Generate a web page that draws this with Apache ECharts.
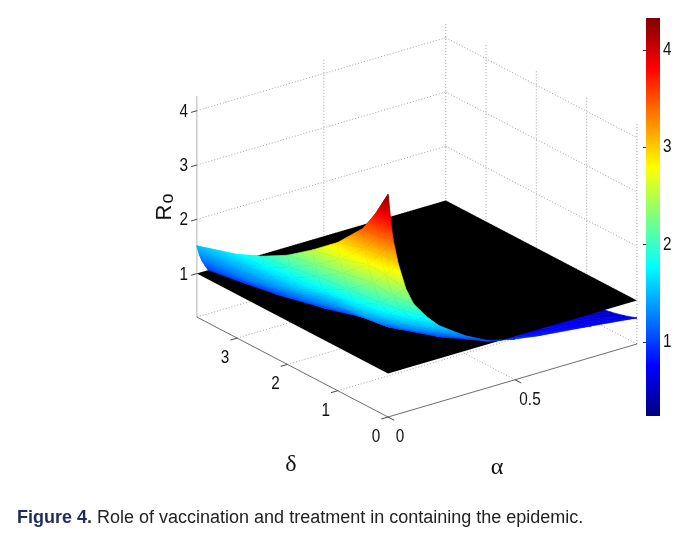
<!DOCTYPE html>
<html>
<head>
<meta charset="utf-8">
<script src="https://cdn.jsdelivr.net/npm/echarts@6/dist/echarts.min.js"></script>
<style>
html, body { margin: 0; padding: 0; background: #fff; }
#main { width: 680px; height: 535px; }
</style>
</head>
<body>
<div id="main"></div>
<script>
// vaccination (alpha) and treatment (delta) sample values
var alphaVals = [0, 0.01, 0.02, 0.04, 0.07, 0.1, 0.15, 0.2, 0.3, 0.4, 0.5, 0.6, 0.8, 0.98];
var deltaVals = [0, 0.25, 0.5, 1, 1.5, 2, 2.5, 3, 3.8];

// R0, one row per delta value, one column per alpha value
var r0Rows = [
    [4.30, 3.83, 3.44, 2.97, 2.47, 2.15, 1.85, 1.61, 1.29, 1.05, 0.95, 0.88, 0.78, 0.68],
    [3.82, 3.40, 3.06, 2.64, 2.20, 1.91, 1.64, 1.43, 1.15, 0.94, 0.84, 0.78, 0.70, 0.60],
    [3.43, 3.05, 2.74, 2.37, 1.97, 1.72, 1.47, 1.29, 1.03, 0.84, 0.75, 0.70, 0.62, 0.54],
    [2.93, 2.61, 2.34, 2.02, 1.68, 1.47, 1.26, 1.10, 0.88, 0.72, 0.64, 0.60, 0.53, 0.46],
    [2.55, 2.27, 2.04, 1.76, 1.59, 1.38, 1.19, 1.04, 0.83, 0.67, 0.59, 0.52, 0.46, 0.40],
    [2.21, 1.97, 1.77, 1.52, 1.37, 1.20, 1.03, 0.90, 0.71, 0.58, 0.51, 0.45, 0.40, 0.35],
    [1.95, 1.74, 1.56, 1.35, 1.21, 1.06, 0.91, 0.79, 0.64, 0.52, 0.45, 0.40, 0.35, 0.31],
    [1.74, 1.55, 1.39, 1.20, 1.08, 0.94, 0.81, 0.70, 0.56, 0.46, 0.40, 0.36, 0.32, 0.275],
    [1.51, 1.34, 1.21, 1.04, 0.87, 0.76, 0.65, 0.57, 0.45, 0.37, 0.33, 0.31, 0.27, 0.24]
];

var thresholdR0 = 1;            // the black plane R0 = 1
var r0Range = [0.24, 4.33];     // colour scale
var zTicks = [1, 2, 3, 4];
var deltaTicks = [0, 1, 2, 3];
var alphaTicks = [0, 0.5];
var alphaTickLabels = ['0', '0.5'];
var colorbarTicks = [1, 2, 3, 4];
var captionBold = 'Figure 4.';
var captionText = 'Role of vaccination and treatment in containing the epidemic.';

// ---- view of the 3D box (pixels on the hidden full-page grid) ----
var ORIGIN = [388, 417];      // floor corner alpha=0, delta=0
var A_VEC = [254, -74.5];     // per unit alpha
var D_VEC = [-50.3, -26.3];   // per unit delta
var Z_PX = 54.3;              // per unit R0
var Z_FLOOR = 0.2, Z_TOP = 4.27;
var A_MAX = alphaVals[alphaVals.length - 1];
var D_MAX = deltaVals[deltaVals.length - 1];

var SANS = "'Liberation Sans', Arial, sans-serif";
var SERIF = "'Liberation Serif', 'DejaVu Serif', serif";

function proj3(a, d, z) {
    return [ORIGIN[0] + a * A_VEC[0] + d * D_VEC[0],
            ORIGIN[1] + a * A_VEC[1] + d * D_VEC[1] - (z - Z_FLOOR) * Z_PX];
}

// MATLAB jet colormap
function jet(v) {
    var t = (v - r0Range[0]) / (r0Range[1] - r0Range[0]);
    t = Math.max(0, Math.min(1, t));
    function c(x) { return Math.round(255 * Math.max(0, Math.min(1, x))); }
    return 'rgb(' + c(1.5 - Math.abs(4 * t - 3)) + ',' + c(1.5 - Math.abs(4 * t - 2)) + ',' + c(1.5 - Math.abs(4 * t - 1)) + ')';
}

function clipAbove(poly, level) {
    var out = [];
    for (var k = 0; k < poly.length; k++) {
        var p = poly[k], q = poly[(k + 1) % poly.length];
        var pin = p.z >= level, qin = q.z >= level;
        if (pin) out.push(p);
        if (pin !== qin) {
            var t = (level - p.z) / (q.z - p.z);
            out.push({ a: p.a + t * (q.a - p.a), d: p.d + t * (q.d - p.d), z: level });
        }
    }
    return out;
}

function renderScene(params, api) {
    var kids = [];
    function P(a, d, z) { return api.coord(proj3(a, d, z)); }
    function seg(p, q, style) {
        kids.push({ type: 'line', shape: { x1: p[0], y1: p[1], x2: q[0], y2: q[1] }, style: style });
    }
    function txt(x, y, s, opt) {
        kids.push({
            type: 'text', x: x, y: y, rotation: opt.rotation || 0, scaleX: opt.scaleX || 1,
            style: {
                text: s, fill: '#111', fontSize: opt.size || 18, fontFamily: opt.family || SANS,
                align: opt.align || 'center', verticalAlign: 'middle', rich: opt.rich
            }
        });
    }
    // colour a polygon whose values vary linearly: fit value = c + g.(x,y), draw as a linear gradient
    function shaded(poly) {
        if (poly.length < 3) return;
        var pts = poly.map(function (v) { return P(v.a, v.d, v.z); });
        var n = pts.length, mx = 0, my = 0, mv = 0;
        for (var k = 0; k < n; k++) { mx += pts[k][0]; my += pts[k][1]; mv += poly[k].z; }
        mx /= n; my /= n; mv /= n;
        var sxx = 0, sxy = 0, syy = 0, sxv = 0, syv = 0;
        for (k = 0; k < n; k++) {
            var dx = pts[k][0] - mx, dy = pts[k][1] - my, dv = poly[k].z - mv;
            sxx += dx * dx; sxy += dx * dy; syy += dy * dy; sxv += dx * dv; syv += dy * dv;
        }
        var det = sxx * syy - sxy * sxy;
        var fill;
        if (Math.abs(det) < 1e-6) {
            fill = jet(mv);
        } else {
            var gx = (syy * sxv - sxy * syv) / det, gy = (sxx * syv - sxy * sxv) / det;
            var gg = gx * gx + gy * gy;
            var lo = Infinity, hi = -Infinity;
            for (k = 0; k < n; k++) {
                var f = mv + gx * (pts[k][0] - mx) + gy * (pts[k][1] - my);
                lo = Math.min(lo, f); hi = Math.max(hi, f);
            }
            if (hi - lo < 0.004 || gg < 1e-12) {
                fill = jet(mv);
            } else {
                var x0 = mx + gx * (lo - mv) / gg, y0 = my + gy * (lo - mv) / gg;
                var x1 = mx + gx * (hi - mv) / gg, y1 = my + gy * (hi - mv) / gg;
                var stops = [];
                for (var s = 0; s <= 6; s++) stops.push({ offset: s / 6, color: jet(lo + (hi - lo) * s / 6) });
                fill = new echarts.graphic.LinearGradient(x0, y0, x1, y1, stops, true);
            }
        }
        kids.push({ type: 'polygon', shape: { points: pts }, style: { fill: fill, stroke: fill, lineWidth: 0.7, lineJoin: 'round' } });
    }

    var dotted = { stroke: '#8a8a8a', lineWidth: 0.8, lineDash: [1, 2] };

    // back walls
    zTicks.forEach(function (z) {
        seg(P(0, D_MAX, z), P(A_MAX, D_MAX, z), dotted);
        seg(P(A_MAX, D_MAX, z), P(A_MAX, 0, z), dotted);
    });
    alphaTicks.forEach(function (a) {
        if (a > 0) seg(P(a, D_MAX, Z_FLOOR), P(a, D_MAX, Z_TOP), dotted);
    });
    seg(P(A_MAX, D_MAX, Z_FLOOR), P(A_MAX, D_MAX, Z_TOP), dotted);
    deltaTicks.forEach(function (d) {
        seg(P(A_MAX, d, Z_FLOOR), P(A_MAX, d, Z_TOP), dotted);
    });
    // floor
    deltaTicks.forEach(function (d) {
        if (d > 0) seg(P(0, d, Z_FLOOR), P(A_MAX, d, Z_FLOOR), dotted);
    });
    alphaTicks.forEach(function (a) {
        if (a > 0) seg(P(a, 0, Z_FLOOR), P(a, D_MAX, Z_FLOOR), dotted);
    });
    seg(P(A_MAX, 0, Z_FLOOR), P(A_MAX, D_MAX, Z_FLOOR), dotted);
    seg(P(0, D_MAX, Z_FLOOR), P(A_MAX, D_MAX, Z_FLOOR), dotted);

    // z axis
    seg(P(0, D_MAX, Z_FLOOR), P(0, D_MAX, Z_TOP), { stroke: '#b5b5b5', lineWidth: 1 });

    // surface cells split into triangles, far to near
    var tris = [];
    for (var i = deltaVals.length - 2; i >= 0; i--) {
        for (var j = alphaVals.length - 2; j >= 0; j--) {
            var v00 = { a: alphaVals[j], d: deltaVals[i], z: r0Rows[i][j] };
            var v10 = { a: alphaVals[j + 1], d: deltaVals[i], z: r0Rows[i][j + 1] };
            var v11 = { a: alphaVals[j + 1], d: deltaVals[i + 1], z: r0Rows[i + 1][j + 1] };
            var v01 = { a: alphaVals[j], d: deltaVals[i + 1], z: r0Rows[i + 1][j] };
            tris.push([v10, v11, v01]);
            tris.push([v00, v10, v01]);
        }
    }
    tris.forEach(shaded);

    // threshold plane R0 = 1
    kids.push({
        type: 'polygon',
        shape: { points: [P(0, 0, thresholdR0), P(A_MAX, 0, thresholdR0), P(A_MAX, D_MAX, thresholdR0), P(0, D_MAX, thresholdR0)] },
        style: { fill: '#000' }
    });

    // part of the surface above the plane
    tris.forEach(function (t) { shaded(clipAbove(t, thresholdR0)); });

    // front axes
    var axisStyle = { stroke: '#6d6d6d', lineWidth: 1 };
    seg(P(0, 0, Z_FLOOR), P(0, D_MAX, Z_FLOOR), axisStyle);
    seg(P(0, 0, Z_FLOOR), P(A_MAX, 0, Z_FLOOR), axisStyle);

    var aLen = Math.sqrt(A_VEC[0] * A_VEC[0] + A_VEC[1] * A_VEC[1]);
    var dLen = Math.sqrt(D_VEC[0] * D_VEC[0] + D_VEC[1] * D_VEC[1]);
    var ua = [A_VEC[0] / aLen, A_VEC[1] / aLen], ud = [D_VEC[0] / dLen, D_VEC[1] / dLen];

    zTicks.forEach(function (z) {
        var p = P(0, D_MAX, z);
        seg(p, [p[0] - 6 * ua[0], p[1] - 6 * ua[1]], { stroke: '#444', lineWidth: 1 });
        txt(p[0] - 13, p[1] + 1, String(z), { scaleX: 0.85 });
    });
    deltaTicks.forEach(function (d) {
        var p = P(0, d, Z_FLOOR);
        seg(p, [p[0] - 7 * ua[0], p[1] - 7 * ua[1]], { stroke: '#444', lineWidth: 1 });
        txt(p[0] - 12, p[1] + 20, String(d), { scaleX: 0.85 });
    });
    alphaTicks.forEach(function (a, k) {
        var p = P(a, 0, Z_FLOOR);
        seg(p, [p[0] - 7 * ud[0], p[1] - 7 * ud[1]], { stroke: '#444', lineWidth: 1 });
        txt(p[0] + 12 + (k > 0 ? 3 : 0), p[1] + 20, alphaTickLabels[k], { scaleX: 0.85 });
    });

    // axis names
    txt(291, 465, '\u03b4', { size: 24, family: SERIF });
    txt(497, 468, '\u03b1', { size: 24, family: SERIF });
    txt(165, 207, '{r|R}{s|o}', {
        rotation: Math.PI / 2,
        rich: {
            r: { fontSize: 22, fontFamily: SANS, fill: '#111' },
            s: { fontSize: 18, fontFamily: SANS, fill: '#111', verticalAlign: 'bottom', padding: [6, 0, 0, 1] }
        }
    });

    // colour bar tick labels
    colorbarTicks.forEach(function (c) {
        var y = 416 - (c - r0Range[0]) / (r0Range[1] - r0Range[0]) * 398;
        txt(663, y, String(c), { align: 'left', scaleX: 0.85 });
    });

    return { type: 'group', children: kids };
}

function renderColorbar(params, api) {
    var p0 = api.coord([0, r0Range[0]]), p1 = api.coord([1, r0Range[1]]);
    var stops = [];
    for (var s = 0; s <= 16; s++) {
        stops.push({ offset: s / 16, color: jet(r0Range[0] + (r0Range[1] - r0Range[0]) * s / 16) });
    }
    return {
        type: 'rect',
        shape: { x: p0[0], y: p1[1], width: p1[0] - p0[0], height: p0[1] - p1[1] },
        style: { fill: new echarts.graphic.LinearGradient(0, 1, 0, 0, stops) }
    };
}

var myChart = echarts.init(document.getElementById('main'));

myChart.setOption({
    animation: false,
    backgroundColor: '#fff',
    title: {
        left: 12,
        top: 504,
        text: '{b|' + captionBold + '} {n|' + captionText + '}',
        textStyle: {
            fontWeight: 'normal',
            rich: {
                b: { fontFamily: SANS, fontSize: 18, fontWeight: 'bold', color: '#1f2c5a' },
                n: { fontFamily: SANS, fontSize: 18, fontWeight: 'normal', color: '#222' }
            }
        }
    },
    grid: [
        { left: 0, top: 0, width: 680, height: 535 },
        { left: 646, top: 18, width: 14, height: 398 }
    ],
    xAxis: [
        { gridIndex: 0, type: 'value', min: 0, max: 680, show: false },
        { gridIndex: 1, type: 'value', min: 0, max: 1, show: false }
    ],
    yAxis: [
        { gridIndex: 0, type: 'value', min: 0, max: 535, inverse: true, show: false },
        {
            gridIndex: 1, type: 'value', min: r0Range[0], max: r0Range[1], position: 'right',
            axisLine: { show: false },
            splitLine: { show: false },
            axisTick: { show: true, inside: true, length: 3, customValues: colorbarTicks, lineStyle: { color: '#333' } },
            axisLabel: { show: false }
        },
        {
            gridIndex: 1, type: 'value', min: r0Range[0], max: r0Range[1], position: 'left',
            axisLine: { show: false },
            splitLine: { show: false },
            axisTick: { show: true, inside: true, length: 3, customValues: colorbarTicks, lineStyle: { color: '#333' } },
            axisLabel: { show: false }
        }
    ],
    series: [
        {
            type: 'custom',
            coordinateSystem: 'cartesian2d',
            xAxisIndex: 0, yAxisIndex: 0,
            silent: true, clip: false, z: 3,
            renderItem: renderScene,
            data: [[0, 0]]
        },
        {
            type: 'custom',
            coordinateSystem: 'cartesian2d',
            xAxisIndex: 1, yAxisIndex: 1,
            silent: true, clip: false, z: 1,
            renderItem: renderColorbar,
            data: [[0, 1]]
        }
    ]
});
</script>
</body>
</html>
